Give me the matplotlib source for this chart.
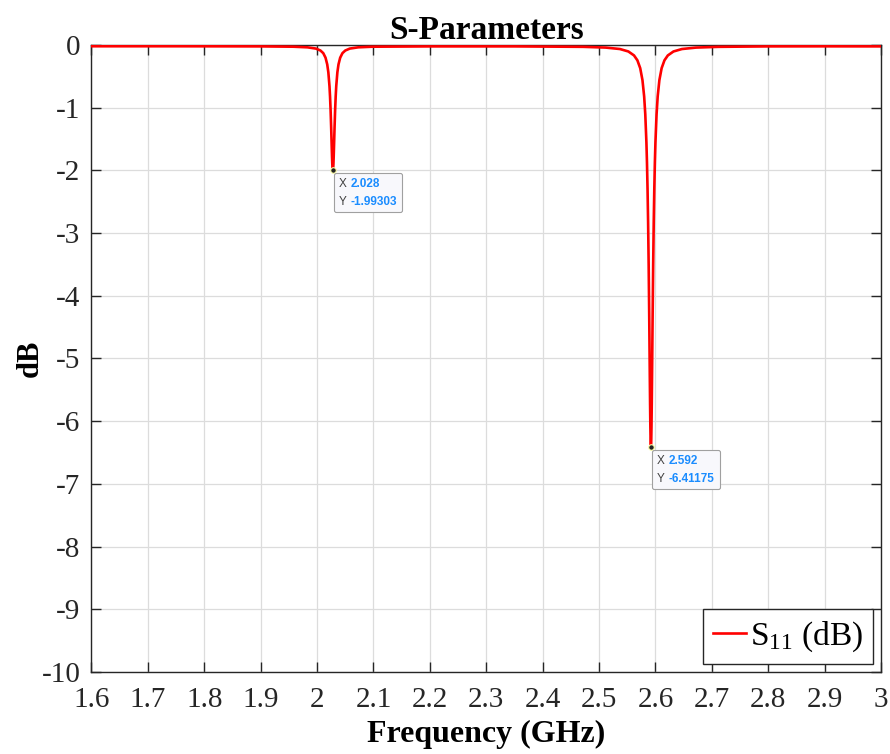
import numpy as np
import matplotlib
matplotlib.use('Agg')
import matplotlib.pyplot as plt
from matplotlib.offsetbox import TextArea, HPacker, VPacker, AnnotationBbox

plt.rcParams['font.family'] = ['Liberation Serif', 'DejaVu Serif']
plt.rcParams['mathtext.fontset'] = 'custom'
plt.rcParams['mathtext.rm'] = 'Liberation Serif'
plt.rcParams['mathtext.it'] = 'Liberation Serif:italic'

# S11 (GHz, dB)
freq = [1.600, 1.750, 1.900, 1.958, 1.983, 1.998, 2.006, 2.011, 2.015, 2.018,
        2.020, 2.022, 2.023, 2.024, 2.025, 2.026, 2.0265, 2.027, 2.0275, 2.028,
        2.0285, 2.029, 2.0295, 2.030, 2.031, 2.032, 2.033, 2.034, 2.036, 2.038,
        2.041, 2.045, 2.050, 2.058, 2.073, 2.098, 2.200, 2.350, 2.472, 2.512,
        2.537, 2.552, 2.562, 2.568, 2.573, 2.577, 2.580, 2.582, 2.584, 2.585,
        2.586, 2.587, 2.588, 2.589, 2.590, 2.5905, 2.591, 2.5915, 2.592, 2.5925,
        2.593, 2.5935, 2.594, 2.595, 2.596, 2.597, 2.598, 2.599, 2.600, 2.602,
        2.604, 2.607, 2.611, 2.616, 2.622, 2.632, 2.647, 2.672, 2.712, 2.800,
        2.900, 3.000]
s11 = [-0.020, -0.020, -0.022, -0.027, -0.037, -0.057, -0.088, -0.130, -0.202, -0.309,
       -0.436, -0.656, -0.823, -1.041, -1.317, -1.628, -1.776, -1.900, -1.983, -1.99303,
       -1.983, -1.900, -1.776, -1.628, -1.317, -1.041, -0.823, -0.656, -0.436, -0.309,
       -0.202, -0.130, -0.088, -0.057, -0.037, -0.027, -0.022, -0.022, -0.029, -0.041,
       -0.064, -0.103, -0.166, -0.244, -0.369, -0.560, -0.820, -1.106, -1.554, -1.875,
       -2.290, -2.824, -3.506, -4.342, -5.273, -5.716, -6.089, -6.342, -6.41175, -6.342,
       -6.089, -5.716, -5.273, -4.342, -3.506, -2.824, -2.290, -1.875, -1.554, -1.106,
       -0.820, -0.560, -0.369, -0.244, -0.166, -0.103, -0.064, -0.041, -0.029, -0.022,
       -0.021, -0.022]

xticks = [1.6, 1.7, 1.8, 1.9, 2.0, 2.1, 2.2, 2.3, 2.4, 2.5, 2.6, 2.7, 2.8, 2.9, 3.0]
xtick_labels = ['1.6', '1.7', '1.8', '1.9', '2', '2.1', '2.2', '2.3', '2.4', '2.5',
                '2.6', '2.7', '2.8', '2.9', '3']
yticks = [0, -1, -2, -3, -4, -5, -6, -7, -8, -9, -10]

tips = [(2.028, -1.99303, '2.028', '-1.99303'),
        (2.592, -6.41175, '2.592', '-6.41175')]

fig = plt.figure(figsize=(8.9, 7.54), dpi=100)
ax = fig.add_axes([0.1028, 0.1088, 0.8871, 0.8315])

ax.plot(freq, s11, color='#ff0000', lw=1.9, label=r'S$_{11}$ (dB)', zorder=3)

ax.set_xlim(1.6, 3.0)
ax.set_ylim(-10, 0)
ax.set_xticks(xticks)
ax.set_xticklabels(xtick_labels)
ax.set_yticks(yticks)
ax.set_yticklabels([str(t) for t in yticks])
ax.tick_params(direction='in', length=7, width=1, labelsize=21, colors='#262626',
               top=True, right=True)
ax.tick_params(axis='x', pad=11)
ax.tick_params(axis='y', pad=8)
ax.grid(True, color='#dcdcdc', lw=0.9)
ax.set_axisbelow(True)
for sp in ax.spines.values():
    sp.set_color('#262626')
    sp.set_linewidth(1.0)

ax.set_title('S-Parameters', fontsize=24, fontweight='bold', pad=4)
ax.set_xlabel('Frequency (GHz)', fontsize=23, fontweight='bold', labelpad=5)
ax.set_ylabel('dB', fontsize=22, fontweight='bold', labelpad=-2)

# datatips
for fx, fy, xs, ys in tips:
    ax.plot(fx, fy, 'o', ms=4, mfc='#222222', mec='#ffffaa', mew=0.8, zorder=5)
    lab = dict(color='#404040', fontsize=8.5, family='Liberation Sans')
    val = dict(color='#1a8cff', fontsize=8.5, family='Liberation Sans', fontweight='bold')
    row1 = HPacker(children=[TextArea('X', textprops=lab), TextArea(xs, textprops=val)],
                   pad=0, sep=3)
    row2 = HPacker(children=[TextArea('Y', textprops=lab), TextArea(ys, textprops=val)],
                   pad=0, sep=3)
    box = VPacker(children=[row1, row2], pad=0, sep=4)
    ab = AnnotationBbox(box, (fx, fy), xybox=(6, -8), xycoords='data',
                        boxcoords='offset pixels', box_alignment=(0, 1),
                        frameon=True, pad=0.35,
                        bboxprops=dict(edgecolor='#a0a0a0', facecolor='#f8f8fc',
                                       boxstyle='round,pad=0.35,rounding_size=0.15', lw=0.8))
    ab.set_zorder(6)
    ax.add_artist(ab)

leg = ax.legend(loc='lower right', fontsize=24, handlelength=1.0, handletextpad=0.1,
                borderaxespad=0.25, fancybox=False, framealpha=1, edgecolor='#262626',
                borderpad=0.3)
leg.get_frame().set_linewidth(1.0)

fig.savefig('out.png', dpi=100)
